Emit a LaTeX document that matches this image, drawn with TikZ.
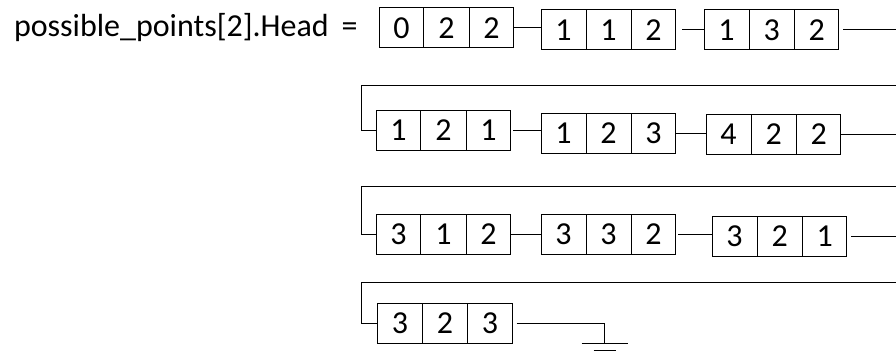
\documentclass[tikz,border=0pt]{standalone}
\usepackage{fontspec}
\setmainfont{Carlito}
\usepackage{tikz}
\usetikzlibrary{positioning}
\usetikzlibrary{shapes.multipart}

% three fields of one list element
\newcommand{\triple}[3]{#1\nodepart{two}#2\nodepart{three}#3}

\tikzset{
    every picture/.style={x=1pt,y=-1pt},
    elem/.style={rectangle split,rectangle split horizontal,rectangle split parts=3,
        draw=black,line width=1pt,inner xsep=13.9pt,inner ysep=0pt,minimum height=40pt,
        font=\fontsize{32}{38}\selectfont},
    link/.style={draw=black,line width=1pt},
}

\begin{document}
\begin{tikzpicture}
\useasboundingbox (0,0) rectangle (896,353);
\clip (0,0) rectangle (896,353);

% first row, hangs off the head pointer
\node[elem] (e1) at (446.5,28) {\triple{0}{2}{2}};
\node[elem,right=27pt of e1,yshift=-2pt] (e2) {\triple{1}{1}{2}};
\node[elem,right=28pt of e2] (e3) {\triple{1}{3}{2}};
\node[inner sep=0pt,left=21pt of e1,font=\fontsize{32}{38}\selectfont] (head)
    {possible\_points[2].Head\hspace{13pt}=};

% second row
\node[elem] (e4) at (443.5,130) {\triple{1}{2}{1}};
\node[elem,right=30pt of e4,yshift=-3pt] (e5) {\triple{1}{2}{3}};
\node[elem,right=30pt of e5,yshift=-1pt] (e6) {\triple{4}{2}{2}};

% third row
\node[elem] (e7) at (443.5,234) {\triple{3}{1}{2}};
\node[elem,right=30pt of e7] (e8) {\triple{3}{3}{2}};
\node[elem,right=36pt of e8,yshift=-2pt] (e9) {\triple{3}{2}{1}};

% last element
\node[elem] (e10) at (445,323) {\triple{3}{2}{3}};

\coordinate (turn1) at (361,85);
\coordinate (turn2) at (361,186);
\coordinate (turn3) at (361,282);

\draw[link] (e1.east) -- (e1.east -| e2.west);
\draw[link,shorten <=6pt] (e2.east) -- (e2.east -| e3.west);
\draw[link,shorten <=4pt] (e3.east) -- ++(70,0) |- (turn1) |- (e4.west);

\draw[link,shorten <=2pt] (e4.east) -- (e4.east -| e5.west);
\draw[link] (e5.east) -- (e5.east -| e6.west);
\draw[link] (e6.east) -- ++(70,0) |- (turn2) |- (e7.west);

\draw[link] (e7.east) -- (e7.east -| e8.west);
\draw[link,shorten <=2pt] (e8.east) -- (e8.east -| e9.west);
\draw[link,shorten <=4pt] (e9.east) -- ++(70,0) |- (turn3) |- (e10.west);

% null pointer
\draw[link,shorten <=4pt] (e10.east) -- ++(92,0) -- ++(0,20) coordinate (gnd);
\draw[link] ([xshift=-23pt]gnd) -- ([xshift=23pt]gnd);
\draw[link] ([xshift=-11pt,yshift=-7pt]gnd) -- ([xshift=11pt,yshift=-7pt]gnd);
\end{tikzpicture}
\end{document}
